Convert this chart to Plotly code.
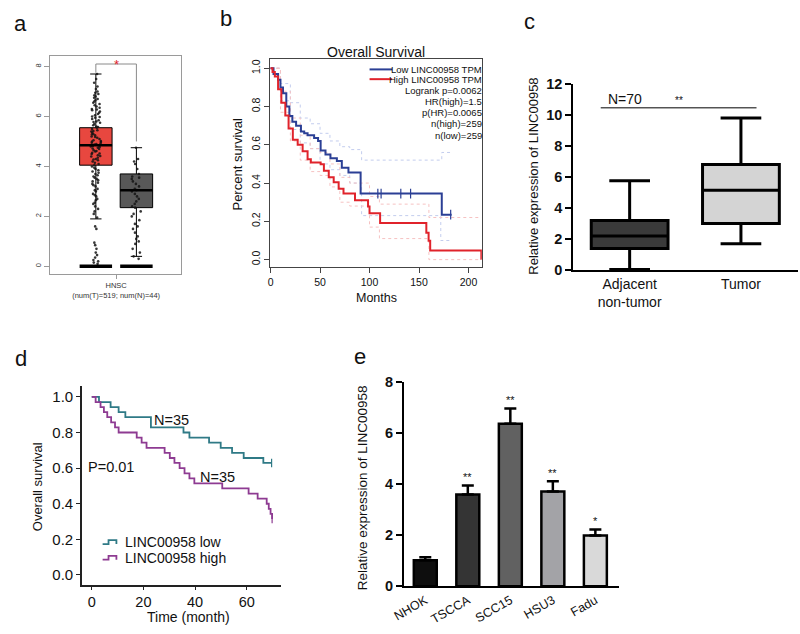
import plotly.graph_objects as go

W, H = 800, 634
FONT = "Liberation Sans, Arial, sans-serif"


def px(x):
    return x / W


def py(y):
    return 1 - y / H


# ---------------- data ----------------
# panel a (GEPIA boxplot, HNSC)
a_pos = [0, 1]
a_fill = ["#E8473F", "#585858"]
a_q1 = [4.05, 2.35]
a_median = [4.85, 3.05]
a_q3 = [5.55, 3.70]
a_lowfence = [1.90, 0.40]
a_highfence = [7.70, 4.75]
a_zero = [0, 0]
a_tumor_pts = [
    7.70, 7.50, 7.35, 7.20, 7.10, 7.00, 6.95, 6.90, 6.85, 6.80, 6.75, 6.70, 6.65, 6.60,
    6.55, 6.50, 6.45, 6.40, 6.35, 6.30, 6.28, 6.25, 6.20, 6.15, 6.10, 6.05, 6.00, 5.98,
    5.95, 5.90, 5.85, 5.80, 5.78, 5.75, 5.70, 5.65, 5.60, 5.58, 5.55, 5.50, 5.45, 5.42,
    5.40, 5.35, 5.30, 5.28, 5.25, 5.20, 5.18, 5.15, 5.10, 5.05, 5.02, 5.00, 4.98, 4.95,
    4.92, 4.90, 4.88, 4.85, 4.82, 4.80, 4.78, 4.75, 4.72, 4.70, 4.65, 4.62, 4.60, 4.55,
    4.52, 4.50, 4.45, 4.42, 4.40, 4.35, 4.30, 4.28, 4.25, 4.20, 4.15, 4.10, 4.05, 4.00,
    3.95, 3.90, 3.85, 3.80, 3.75, 3.70, 3.65, 3.60, 3.55, 3.50, 3.45, 3.40, 3.35, 3.30,
    3.25, 3.20, 3.10, 3.05, 3.00, 2.90, 2.85, 2.80, 2.70, 2.65, 2.55, 2.50, 2.40, 2.30,
    2.20, 2.10, 1.95, 1.60, 1.50, 0.95, 0.85, 0.70, 0.55, 0.45, 0.35, 0.25, 0.20, 0.15, 0.10,
]
a_normal_pts = [
    4.75, 4.30, 4.20, 4.10, 3.90, 3.70, 3.60, 3.55, 3.50, 3.40, 3.30, 3.20, 3.10, 3.05,
    3.00, 2.90, 2.80, 2.70, 2.60, 2.50, 2.40, 2.35, 2.20, 2.10, 2.00, 1.85, 1.70, 1.60,
    1.50, 1.35, 1.20, 1.10, 1.00, 0.90, 0.70, 0.55, 0.40, 0.30,
]
a_tick_text = "HNSC<br>(num(T)=519; num(N)=44)"

# panel b (GEPIA overall survival)
b_low_t = [0, 3, 7.6, 10, 12.6, 15.9, 19, 22, 25.8, 30.7, 34, 37.4, 44, 48, 50.6, 55.5,
           60.5, 67, 72, 78.7, 91, 173, 183]
b_low_s = [1.0, 0.97, 0.94, 0.90, 0.87, 0.80, 0.75, 0.72, 0.70, 0.67, 0.66, 0.65, 0.635,
           0.62, 0.57, 0.55, 0.53, 0.515, 0.48, 0.455, 0.345, 0.235, 0.235]
b_high_t = [0, 2, 4.3, 7.6, 10.9, 14.9, 18.2, 22.5, 27.4, 32.4, 37.4, 40.7, 50.6, 53.9,
            58.8, 63.8, 68.8, 73.7, 85.3, 98.5, 100, 110.7, 157.4, 159.7, 161.3, 213, 213.5]
b_high_s = [1.0, 0.98, 0.957, 0.89, 0.82, 0.753, 0.685, 0.626, 0.60, 0.566, 0.524, 0.507,
            0.498, 0.464, 0.43, 0.405, 0.37, 0.345, 0.31, 0.277, 0.243, 0.192, 0.141, 0.099,
            0.048, 0.005, 0.005]
b_low_cens_t = [108.4, 111.7, 131.6, 141.5, 182]
b_low_cens_s = [0.345, 0.345, 0.345, 0.345, 0.235]
b_lowup_t = [0, 10, 20, 30, 40, 50, 60, 70, 80, 91, 92, 172, 173, 183]
b_lowup_s = [1.0, 0.92, 0.82, 0.74, 0.71, 0.66, 0.62, 0.59, 0.575, 0.575, 0.52, 0.52, 0.56, 0.56]
b_lowlo_t = [0, 10, 20, 30, 40, 50, 60, 70, 80, 91, 92, 160, 172, 183]
b_lowlo_s = [1.0, 0.83, 0.68, 0.61, 0.58, 0.50, 0.47, 0.44, 0.40, 0.38, 0.23, 0.23, 0.10, 0.10]
b_highup_t = [0, 10, 20, 30, 40, 50, 60, 70, 80, 100, 110, 156, 160, 213]
b_highup_s = [1.0, 0.88, 0.74, 0.65, 0.58, 0.56, 0.50, 0.43, 0.40, 0.33, 0.29, 0.29, 0.22, 0.22]
b_highlo_t = [0, 10, 20, 30, 40, 50, 60, 70, 80, 100, 110, 156, 160, 213]
b_highlo_s = [1.0, 0.77, 0.62, 0.52, 0.46, 0.44, 0.38, 0.30, 0.28, 0.17, 0.11, 0.11, 0.0, 0.0]
b_legend_rows = ["Logrank p=0.0062", "HR(high)=1.5", "p(HR)=0.0065", "n(high)=259", "n(low)=259"]

# panel c (boxplot, 70 pairs)
c_pos = [0, 1]
c_labels = ["Adjacent<br>non-tumor", "Tumor"]
c_fill = ["#3A3A3A", "#D4D4D4"]
c_q1 = [1.40, 3.00]
c_median = [2.20, 5.15]
c_q3 = [3.20, 6.80]
c_lowfence = [0.05, 1.70]
c_highfence = [5.75, 9.80]
c_sig_level = 10.45

# panel d (70 patients, KM)
d_low_t = [0, 2.8, 7.3, 10.4, 13.0, 22.9, 35.5, 37.8, 45.4, 49.9, 54.3, 58.8, 66.4, 69.6]
d_low_s = [1.0, 0.971, 0.943, 0.914, 0.886, 0.829, 0.800, 0.771, 0.743, 0.714, 0.686,
           0.657, 0.629, 0.629]
d_high_t = [0, 1.5, 3.4, 4.7, 6.0, 7.5, 9.0, 10.4, 17.4, 19.3, 21.2, 28.2, 30.2, 32.0,
            34.0, 35.9, 37.8, 39.7, 50.5, 60.7, 64.2, 67.7, 68.5, 69.2, 69.8]
d_high_s = [1.0, 0.971, 0.943, 0.914, 0.886, 0.857, 0.829, 0.800, 0.771, 0.743, 0.714,
            0.686, 0.657, 0.629, 0.600, 0.571, 0.543, 0.514, 0.486, 0.457, 0.429, 0.400,
            0.371, 0.343, 0.314]

# panel e (cell lines)
e_cells = ["NHOK", "TSCCA", "SCC15", "HSU3", "Fadu"]
e_values = [1.02, 3.59, 6.35, 3.71, 1.99]
e_errors = [0.12, 0.35, 0.60, 0.40, 0.23]
e_stars = ["", "**", "**", "**", "*"]
e_colors = ["#0E0E0E", "#343434", "#616161", "#A3A3A7", "#D9D9D9"]

# ---------------- figure ----------------
fig = go.Figure()

BLUE = "#2B3F95"
RED = "#E0232B"
TEAL = "#2F7A86"
PURPLE = "#8E3B92"

# ---- panel a ----
a_w = 0.8
for i in range(2):
    fig.add_trace(go.Box(
        x=[a_pos[i]], q1=[a_q1[i]], median=[a_median[i]], q3=[a_q3[i]],
        lowerfence=[a_lowfence[i]], upperfence=[a_highfence[i]],
        width=a_w, whiskerwidth=0.35, fillcolor=a_fill[i],
        line=dict(color="black", width=1), boxpoints=False,
        xaxis="x", yaxis="y", showlegend=False, hoverinfo="skip"))
    fig.add_trace(go.Scatter(
        x=[a_pos[i] - a_w / 2, a_pos[i] + a_w / 2], y=[a_median[i]] * 2, mode="lines",
        line=dict(color="black", width=2.5), xaxis="x", yaxis="y", showlegend=False,
        hoverinfo="skip"))
for pos, pts in zip(a_pos, [a_tumor_pts, a_normal_pts]):
    fig.add_trace(go.Box(
        x=[pos] * len(pts), y=pts, boxpoints="all", jitter=0.35, pointpos=0,
        width=a_w, fillcolor="rgba(0,0,0,0)", line=dict(color="rgba(0,0,0,0)"),
        marker=dict(color="rgba(20,20,20,0.85)", size=2.6),
        xaxis="x", yaxis="y", showlegend=False, hoverinfo="skip"))
for i in range(2):
    fig.add_trace(go.Scatter(
        x=[a_pos[i] - a_w / 2, a_pos[i] + a_w / 2], y=[a_zero[i]] * 2, mode="lines",
        line=dict(color="black", width=3.5), xaxis="x", yaxis="y", showlegend=False,
        hoverinfo="skip"))
a_br = 8.1
fig.add_trace(go.Scatter(
    x=[a_pos[0], a_pos[0], a_pos[1], a_pos[1]],
    y=[a_highfence[0] + 0.05, a_br, a_br, a_highfence[1] + 0.25],
    mode="lines", line=dict(color="#8a8a8a", width=1), xaxis="x", yaxis="y",
    showlegend=False, hoverinfo="skip"))

# ---- panel b ----
band_style = dict(width=1, dash="dot")
for t, s, c in [(b_lowup_t, b_lowup_s, "#C3CDEE"), (b_lowlo_t, b_lowlo_s, "#C3CDEE"),
                (b_highup_t, b_highup_s, "#F6C2C2"), (b_highlo_t, b_highlo_s, "#F6C2C2")]:
    fig.add_trace(go.Scatter(x=t, y=s, mode="lines", line_shape="hv",
                             line=dict(color=c, **band_style), xaxis="x2", yaxis="y2",
                             showlegend=False, hoverinfo="skip"))
fig.add_trace(go.Scatter(x=b_low_t, y=b_low_s, mode="lines", line_shape="hv",
                         line=dict(color=BLUE, width=2), xaxis="x2", yaxis="y2",
                         showlegend=False))
fig.add_trace(go.Scatter(x=b_high_t, y=b_high_s, mode="lines", line_shape="hv",
                         line=dict(color=RED, width=2), xaxis="x2", yaxis="y2",
                         showlegend=False))
fig.add_trace(go.Scatter(x=b_low_cens_t, y=b_low_cens_s, mode="markers",
                         marker=dict(symbol="line-ns-open", size=7, color=BLUE,
                                     line=dict(color=BLUE, width=1.2)),
                         xaxis="x2", yaxis="y2", showlegend=False))

# ---- panel c ----
c_w = 0.69
for i in range(2):
    fig.add_trace(go.Box(
        x=[c_pos[i]], q1=[c_q1[i]], median=[c_median[i]], q3=[c_q3[i]],
        lowerfence=[c_lowfence[i]], upperfence=[c_highfence[i]],
        width=c_w, whiskerwidth=0.53, fillcolor=c_fill[i],
        line=dict(color="black", width=3), boxpoints=False,
        xaxis="x3", yaxis="y3", showlegend=False, hoverinfo="skip"))
fig.add_trace(go.Scatter(x=[c_pos[0] - 0.26, c_pos[1] + 0.14], y=[c_sig_level] * 2,
                         mode="lines", line=dict(color="black", width=1),
                         xaxis="x3", yaxis="y3", showlegend=False, hoverinfo="skip"))

# ---- panel d ----
fig.add_trace(go.Scatter(x=d_low_t, y=d_low_s, mode="lines", line_shape="hv",
                         line=dict(color=TEAL, width=1.8), xaxis="x4", yaxis="y4",
                         showlegend=False))
fig.add_trace(go.Scatter(x=d_high_t, y=d_high_s, mode="lines", line_shape="hv",
                         line=dict(color=PURPLE, width=1.8), xaxis="x4", yaxis="y4",
                         showlegend=False))
fig.add_trace(go.Scatter(x=[d_low_t[-1], d_high_t[-1]], y=[d_low_s[-1], d_high_s[-1]],
                         mode="markers",
                         marker=dict(symbol="line-ns-open", size=6, color=[TEAL, PURPLE],
                                     line=dict(color=[TEAL, PURPLE], width=1.2)),
                         xaxis="x4", yaxis="y4", showlegend=False))

# ---- panel e ----
fig.add_trace(go.Bar(
    x=e_cells, y=e_values, width=0.54,
    marker=dict(color=e_colors, line=dict(color="black", width=2.5)),
    error_y=dict(type="data", array=e_errors, arrayminus=[0] * len(e_errors),
                 symmetric=False, color="black", thickness=2.5, width=6),
    xaxis="x5", yaxis="y5", showlegend=False))

# ---------------- axes ----------------
noline = dict(showgrid=False, zeroline=False)
lay = dict(
    width=W, height=H, margin=dict(l=0, r=0, t=0, b=0),
    paper_bgcolor="white", plot_bgcolor="white", boxmode="overlay",
    font=dict(family=FONT, color="#111"),
    # a
    xaxis=dict(domain=[px(39), px(172)], range=[-1.12, 2.11], anchor="y",
               showline=True, mirror=True, linecolor="#9a9a9a", linewidth=1,
               tickvals=[0.5], ticktext=[a_tick_text], ticks="outside", ticklen=4,
               tickcolor="#9a9a9a", tickfont=dict(size=7.5, color="#333"), **noline),
    yaxis=dict(domain=[py(273), py(49)], range=[-0.31, 8.43], anchor="x",
               showline=True, mirror=True, linecolor="#9a9a9a", linewidth=1,
               tickvals=[0, 2, 4, 6, 8], tickangle=-90, ticks="outside", ticklen=5,
               tickcolor="#9a9a9a", tickfont=dict(size=7.5, color="#333"), **noline),
    # b
    xaxis2=dict(domain=[px(262), px(477)], range=[-0.5, 213.5], anchor="y2",
                showline=True, mirror=True, linecolor="#444", linewidth=1,
                tickvals=[0, 50, 100, 150, 200], ticks="outside", ticklen=5,
                tickcolor="#444", tickfont=dict(size=10.5), **noline),
    yaxis2=dict(domain=[py(266), py(52)], range=[-0.04, 1.05], anchor="x2",
                showline=True, mirror=True, linecolor="#444", linewidth=1,
                tickvals=[0, 0.2, 0.4, 0.6, 0.8, 1.0],
                ticktext=["0.0", "0.2", "0.4", "0.6", "0.8", "1.0"], tickangle=-90,
                ticks="outside", ticklen=5, tickcolor="#444", tickfont=dict(size=10.5),
                **noline),
    # c
    xaxis3=dict(domain=[px(570), px(798)], range=[-0.505, 1.513], anchor="y3",
                showline=True, linecolor="black", linewidth=2.2,
                tickvals=c_pos, ticktext=c_labels, ticks="",
                tickfont=dict(size=14), **noline),
    yaxis3=dict(domain=[py(269), py(77.7)], range=[0, 12], anchor="x3",
                showline=True, linecolor="black", linewidth=2.2, dtick=2,
                ticks="outside", ticklen=6, tickwidth=2.2, tickcolor="black",
                tickfont=dict(size=14.5, weight="bold"), **noline),
    # d
    xaxis4=dict(domain=[px(71), px(273)], range=[-3.8, 73.2], anchor="y4",
                showline=True, linecolor="#222", linewidth=1.5,
                tickvals=[0, 20, 40, 60], ticks="outside", ticklen=3, tickcolor="#222",
                tickfont=dict(size=14.5), **noline),
    yaxis4=dict(domain=[py(591.7), py(388)], range=[-0.055, 1.06], anchor="x4",
                showline=True, linecolor="#222", linewidth=1.5,
                tickvals=[0, 0.2, 0.4, 0.6, 0.8, 1.0],
                ticktext=["0.0", "0.2", "0.4", "0.6", "0.8", "1.0"],
                ticks="outside", ticklen=4, tickcolor="#222", tickfont=dict(size=15),
                **noline),
    # e
    xaxis5=dict(domain=[px(398), px(616)], range=[-0.5, 4.55], anchor="y5",
                showline=True, linecolor="black", linewidth=2.2, ticks="",
                tickangle=-30, tickfont=dict(size=12.5), **noline),
    yaxis5=dict(domain=[py(593.3), py(383.3)], range=[0, 8], anchor="x5",
                showline=True, linecolor="black", linewidth=2.2, dtick=2,
                ticks="outside", ticklen=6, tickwidth=2.2, tickcolor="black",
                tickfont=dict(size=14.5, weight="bold"), **noline),
)
fig.update_layout(**lay)

ann = []


def add_text(x, y, text, size, **kw):
    d = dict(x=px(x), y=py(y), xref="paper", yref="paper", text=text, showarrow=False,
             font=dict(size=size, family=FONT, color=kw.pop("color", "#111")),
             xanchor=kw.pop("xanchor", "center"), yanchor=kw.pop("yanchor", "middle"))
    d.update(kw)
    ann.append(d)


# panel labels
add_text(9, 16, "a", 22)
add_text(217, 11, "b", 22)
add_text(525, 14, "c", 22)
add_text(9, 360, "d", 22)
add_text(353, 358, "e", 22)

# panel a
ann.append(dict(x=0.5, y=a_br, xref="x", yref="y", text="*", showarrow=False,
                font=dict(size=13, color=RED, family=FONT), yanchor="middle"))

# panel b
add_text(370, 45, "Overall Survival", 14)
add_text(229, 160, "Percent survival", 13, textangle=-90)
add_text(370, 297, "Months", 12.5)
add_text(479, 63, "Low LINC00958 TPM", 9.5, xanchor="right")
add_text(479, 73, "High LINC00958 TPM", 9.5, xanchor="right")
for k, row in enumerate(b_legend_rows):
    add_text(479, 84.5 + 11.5 * k, row, 9.5, xanchor="right")

# panel c
add_text(530, 173, "Relative expression of LINC00958", 13, textangle=-90)
ann.append(dict(x=-0.04, y=c_sig_level + 0.55, xref="x3", yref="y3", text="N=70",
                showarrow=False, font=dict(size=14, family=FONT, color="#111")))
ann.append(dict(x=0.44, y=c_sig_level + 0.5, xref="x3", yref="y3", text="**",
                showarrow=False, font=dict(size=10, family=FONT, color="#111")))

# panel d
add_text(26, 491, "Overall survival", 13, textangle=-90)
add_text(179, 625, "Time (month)", 14)
add_text(162, 423, "N=35", 14.5)
add_text(209, 481, "N=35", 14.5)
add_text(100, 471, "P=0.01", 14.5)
add_text(113, 548, "LINC00958 low", 14, xanchor="left")
add_text(113, 564, "LINC00958 high", 14, xanchor="left")

# panel e
add_text(356, 492, "Relative expression of LINC00958", 13.5, textangle=-90)
for c, v, e, s in zip(e_cells, e_values, e_errors, e_stars):
    if s:
        ann.append(dict(x=c, y=v + e + 0.32, xref="x5", yref="y5", text=s, showarrow=False,
                        font=dict(size=11, family=FONT, color="#111")))

fig.update_layout(annotations=ann)

# legend swatches
shapes = []
shapes.append(dict(type="line", xref="paper", yref="paper", x0=px(363), x1=px(386),
                   y0=py(63), y1=py(63), line=dict(color=BLUE, width=2)))
shapes.append(dict(type="line", xref="paper", yref="paper", x0=px(363), x1=px(386),
                   y0=py(73), y1=py(73), line=dict(color=RED, width=2)))


def step_glyph(x0, y, color):
    path = (f"M {px(x0)} {py(y + 2)} L {px(x0 + 6)} {py(y + 2)} L {px(x0 + 6)} {py(y - 2)} "
            f"L {px(x0 + 14)} {py(y - 2)} L {px(x0 + 14)} {py(y + 2)}")
    return dict(type="path", xref="paper", yref="paper", path=path,
                line=dict(color=color, width=1.8))


shapes.append(step_glyph(92, 548, TEAL))
shapes.append(step_glyph(92, 564, PURPLE))
fig.update_layout(shapes=shapes)

fig.write_html("out.html", config={"displayModeBar": False},
               post_script="document.body.style.margin='0';")
